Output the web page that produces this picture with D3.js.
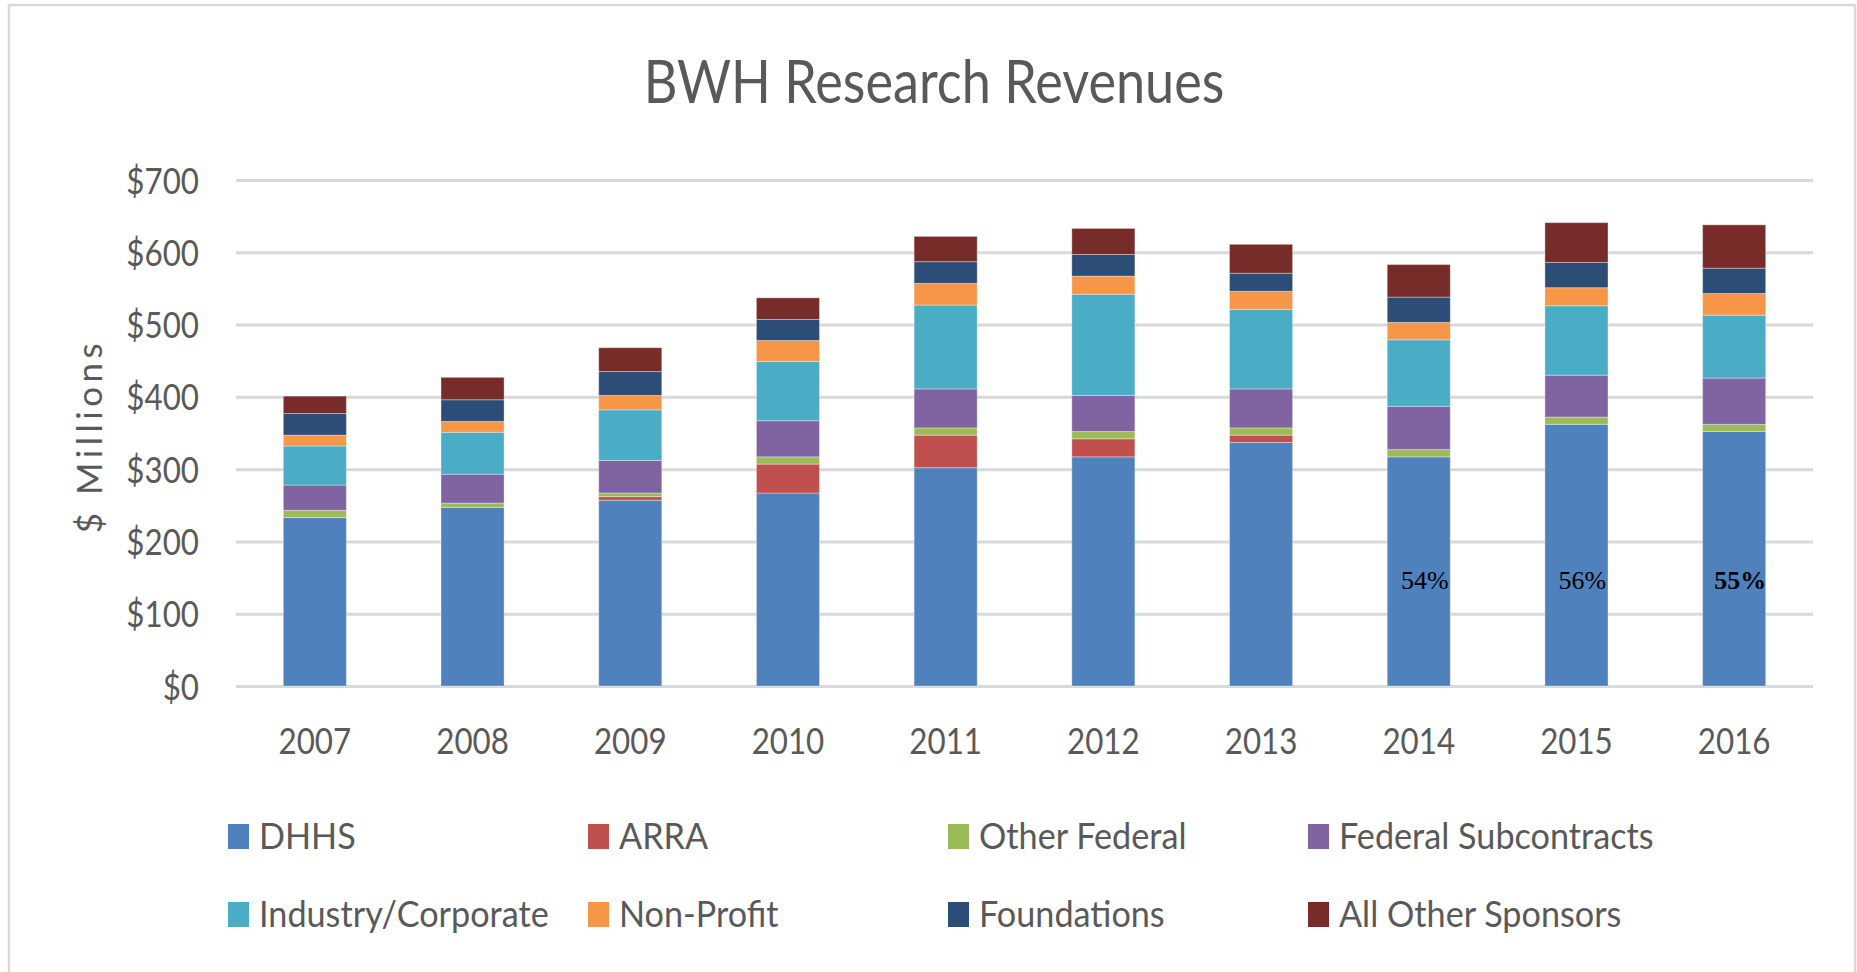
<!DOCTYPE html>
<html>
<head>
<meta charset="utf-8">
<script src="https://cdn.jsdelivr.net/npm/d3@7"></script>
<style>
  html, body { margin: 0; padding: 0; background: #ffffff; }
  svg { display: block; }
  text { font-family: Lato, "Open Sans", sans-serif; fill: #595959; }
</style>
</head>
<body>
<svg id="chart" width="1857" height="972"></svg>
<script>
// ---- data ----
const years = ["2007","2008","2009","2010","2011","2012","2013","2014","2015","2016"];
const seriesNames = ["DHHS","ARRA","Other Federal","Federal Subcontracts","Industry/Corporate","Non-Profit","Foundations","All Other Sponsors"];
const dhhs        = [233, 247, 257, 267, 302, 317, 337, 317, 362, 352];
const arra        = [0, 0, 5, 40, 45, 25, 10, 0, 0, 0];
const otherFed    = [10, 6, 5, 10, 10, 10, 10, 10, 10, 10];
const fedSub      = [35, 40, 45, 50, 54, 50, 54, 60, 58, 64];
const industry    = [54, 58, 70, 82, 116, 140, 110, 92, 96, 87];
const nonProfit   = [15, 15, 20, 29, 30, 25, 25, 24, 25, 30];
const foundations = [30, 30, 33, 29, 30, 30, 25, 35, 35, 35];
const allOther    = [24, 31, 33, 30, 35, 36, 40, 45, 55, 60];
const yTicks = [0, 100, 200, 300, 400, 500, 600, 700];
const pctYears = ["2014", "2015", "2016"];
const pctLabels = ["54%", "56%", "55%"];
const pctBold = [false, false, true];
const colors = ["#4f81bd","#c0504d","#9bbb59","#8064a2","#4bacc6","#f79646","#2c4d75","#772c2a"];

const seriesValues = [dhhs, arra, otherFed, fedSub, industry, nonProfit, foundations, allOther];
const table = years.map((yr, i) => {
  const row = { year: yr };
  seriesNames.forEach((s, k) => row[s] = seriesValues[k][i]);
  return row;
});

// ---- layout ----
const svg = d3.select("#chart");
const SX = 0.87;   // horizontal text compression (reference is narrow)
const LSX = 0.95;  // legend text compression

svg.append("rect").attr("x", 9).attr("y", 5).attr("width", 1846).attr("height", 1000)
  .attr("fill", "#ffffff").attr("stroke", "#d9d9d9").attr("stroke-width", 2.5);

const x = d3.scaleBand().domain(years).range([236, 1813]).paddingInner(0.6).paddingOuter(0.3);
const y = d3.scaleLinear().domain([0, 700]).range([686, 180]);

// gridlines + y axis labels
const yAxis = d3.axisLeft(y).tickValues(yTicks).tickSize(-(1813 - 236)).tickFormat(d => "$" + d);
const gy = svg.append("g").attr("transform", "translate(236,0)").call(yAxis);
gy.select(".domain").remove();
gy.selectAll(".tick line").attr("stroke", "#d9d9d9").attr("stroke-width", 3);
gy.selectAll(".tick text")
  .attr("x", 0).attr("dy", null).attr("y", 13)
  .attr("transform", `translate(-37,0) scale(${SX},1)`)
  .attr("font-size", 36).attr("font-family", "Lato").attr("fill", "#595959")
  .attr("text-anchor", "end");

// stacked bars
const stack = d3.stack().keys(seriesNames);
const stacked = stack(table);
svg.append("g").selectAll("g").data(stacked).join("g")
  .attr("fill", (d, i) => colors[i])
  .selectAll("rect").data(d => d).join("rect")
  .attr("x", d => x(d.data.year))
  .attr("width", x.bandwidth())
  .attr("y", d => y(d[1]))
  .attr("height", d => Math.max(0, y(d[0]) - y(d[1])))
  .attr("stroke", d => (d[1] - d[0]) > 0 ? "rgba(255,255,255,0.35)" : "none")
  .attr("stroke-width", 1);

// x axis labels
const xAxis = d3.axisBottom(x).tickSize(0);
const gx = svg.append("g").attr("transform", "translate(0,686)").call(xAxis);
gx.select(".domain").remove();
gx.selectAll(".tick text")
  .attr("y", 0).attr("dy", null)
  .attr("transform", `translate(0,68) scale(${SX},1)`)
  .attr("font-size", 36).attr("font-family", "Lato").attr("fill", "#595959");

// percentage labels
const pctValueLevel = 134;
pctYears.forEach((yr, i) => {
  svg.append("text")
    .attr("x", x(yr) + x.bandwidth() / 2 + 6)
    .attr("y", y(pctValueLevel))
    .attr("text-anchor", "middle")
    .style("font-family", "'Liberation Serif', 'Times New Roman', serif")
    .style("fill", "#000000")
    .attr("font-size", 26)
    .attr("font-weight", pctBold[i] ? "bold" : "normal")
    .text(pctLabels[i]);
});

// title
svg.append("text")
  .attr("transform", `translate(934,103) scale(${SX},1)`)
  .attr("text-anchor", "middle")
  .attr("font-size", 60)
  .text("BWH Research Revenues");

// y axis title
svg.append("text")
  .attr("transform", "translate(102,436) rotate(-90)")
  .attr("text-anchor", "middle")
  .attr("font-size", 35)
  .attr("letter-spacing", 4.5)
  .text("$ Millions");

// legend
const legCols = [228, 588, 948, 1308];
const legRows = [824, 902];
const leg = svg.append("g");
seriesNames.forEach((name, i) => {
  const lx = legCols[i % 4], ly = legRows[Math.floor(i / 4)];
  leg.append("rect").attr("x", lx).attr("y", ly).attr("width", 21).attr("height", 25).attr("fill", colors[i]);
  leg.append("text")
    .attr("transform", `translate(${lx + 31},${ly + 25}) scale(${LSX},1)`)
    .attr("font-size", 36)
    .text(name);
});
</script>
</body>
</html>
